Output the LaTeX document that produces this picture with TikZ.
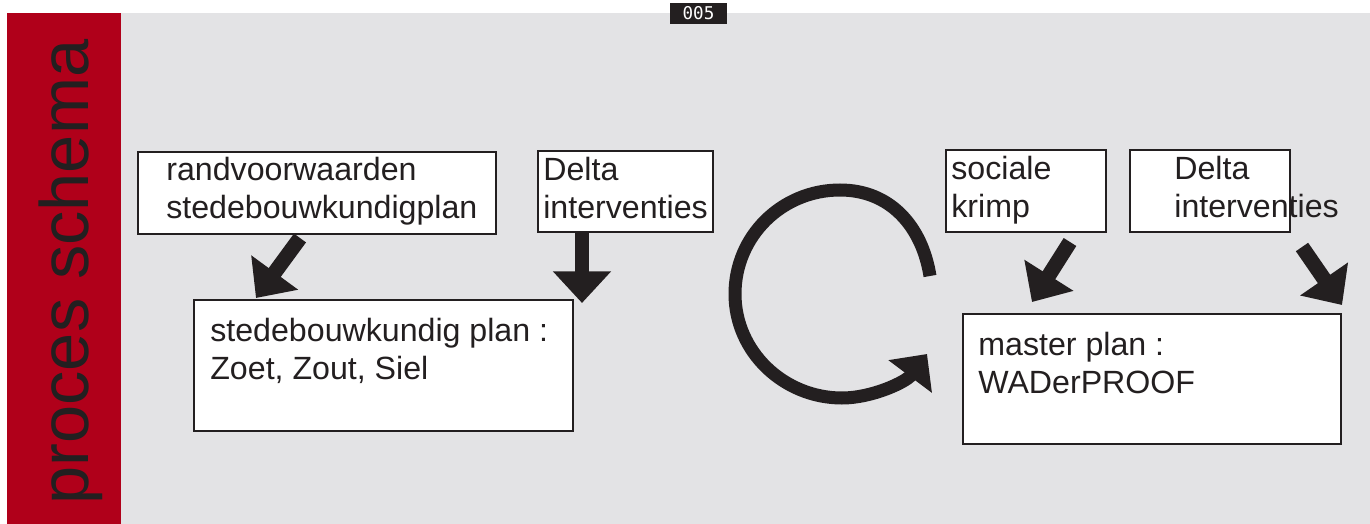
\documentclass[tikz,border=0pt]{standalone}
\usepackage{fontspec}
\setmainfont{Liberation Sans}
\newfontfamily\monofont{DejaVu Sans Mono}
\usetikzlibrary{calc, arrows.meta, positioning}
\definecolor{rd}{RGB}{176, 0, 26}
\definecolor{gr}{RGB}{227, 227, 229}
\definecolor{ink}{HTML}{231F20}

\tikzset{
    box/.style={draw=ink, fill=white, line width=0.9pt, anchor=north west, inner sep=0pt},
    txt/.style={anchor=north west, inner sep=0pt, align=left, text=ink, font=\fontsize{18.3}{21.4}\selectfont},
    blk/.style={draw=ink, line width=8.5pt, -{Triangle[width=32pt, length=18pt]}},
    ring/.style={draw=ink, line width=7.4pt, -{Triangle[width=30pt, length=16pt]}}
}

\begin{document}
\begin{tikzpicture}[x=0.02cm, y=-0.02cm]
			\useasboundingbox (0,0) rectangle (1370,524);
			\fill[white] (0,0) rectangle (1370,524);
			\fill[gr] (121,13) rectangle (1370,524);
			\fill[rd] (7,13) rectangle (121,524);
			
			\node[rotate=90, anchor=base, inner sep=0pt, text=ink, font=\fontsize{39}{39}\selectfont] (title) at (88,272) {proces schema};
			
			\node[fill=ink, text=white, inner sep=0pt, minimum width=1.14cm, minimum height=0.42cm, font=\monofont\fontsize{10}{10}\selectfont] (page) at (698.5,13.5) {005};
			
			% boxes
			\node[box, minimum width=7.16cm, minimum height=1.64cm] (rand) at (137,151) {};
			\node[box, minimum width=3.5cm, minimum height=1.62cm] (deltaL) at (537,150) {};
			\node[box, minimum width=7.58cm, minimum height=2.62cm] (sbplan) at (193,299) {};
			\node[box, minimum width=3.2cm, minimum height=1.64cm] (krimp) at (945,149) {};
			\node[box, minimum width=3.2cm, minimum height=1.64cm] (deltaR) at (1129,149) {};
			\node[box, minimum width=7.56cm, minimum height=2.6cm] (master) at (962,313) {};
			
			\node[txt] (randtxt) at (166,157) {randvoorwaarden\\stedebouwkundigplan};
			\node[txt] (deltaLtxt) at (543,157) {Delta\\interventies};
			\node[txt] (sbplantxt) at (210,318) {stedebouwkundig plan :\\Zoet, Zout, Siel};
			\node[txt] (krimptxt) at (951,156) {sociale\\krimp};
			\node[txt] (deltaRtxt) at (1174,156) {Delta\\interventies};
			\node[txt] (mastertxt) at (978,332) {master plan :\\WADerPROOF};
			
			% arrows
			\coordinate (a1s) at (300,238);
			\coordinate (a1e) at (256,298);
			\coordinate (a2s) at (582,233);
			\coordinate (a2e) at (582,303);
			\coordinate (a3s) at (1070,242);
			\coordinate (a3e) at (1032,302);
			\coordinate (a4s) at (1302,247);
			\coordinate (a4e) at (1342,305);
			
			\draw[blk] (a1s) -- (a1e);
			\draw[blk] (a2s) -- (a2e);
			\draw[blk] (a3s) -- (a3e);
			\draw[blk] (a4s) -- (a4e);
			
			\draw[ring] (930,276) .. controls (922,226) and (890,190) .. (840,190)
				.. controls (782,190) and (735,236) .. (735,294)
				.. controls (735,352) and (784,398) .. (842,398)
				.. controls (872,398) and (906,382) .. (927,354);
			
\end{tikzpicture}
\end{document}
